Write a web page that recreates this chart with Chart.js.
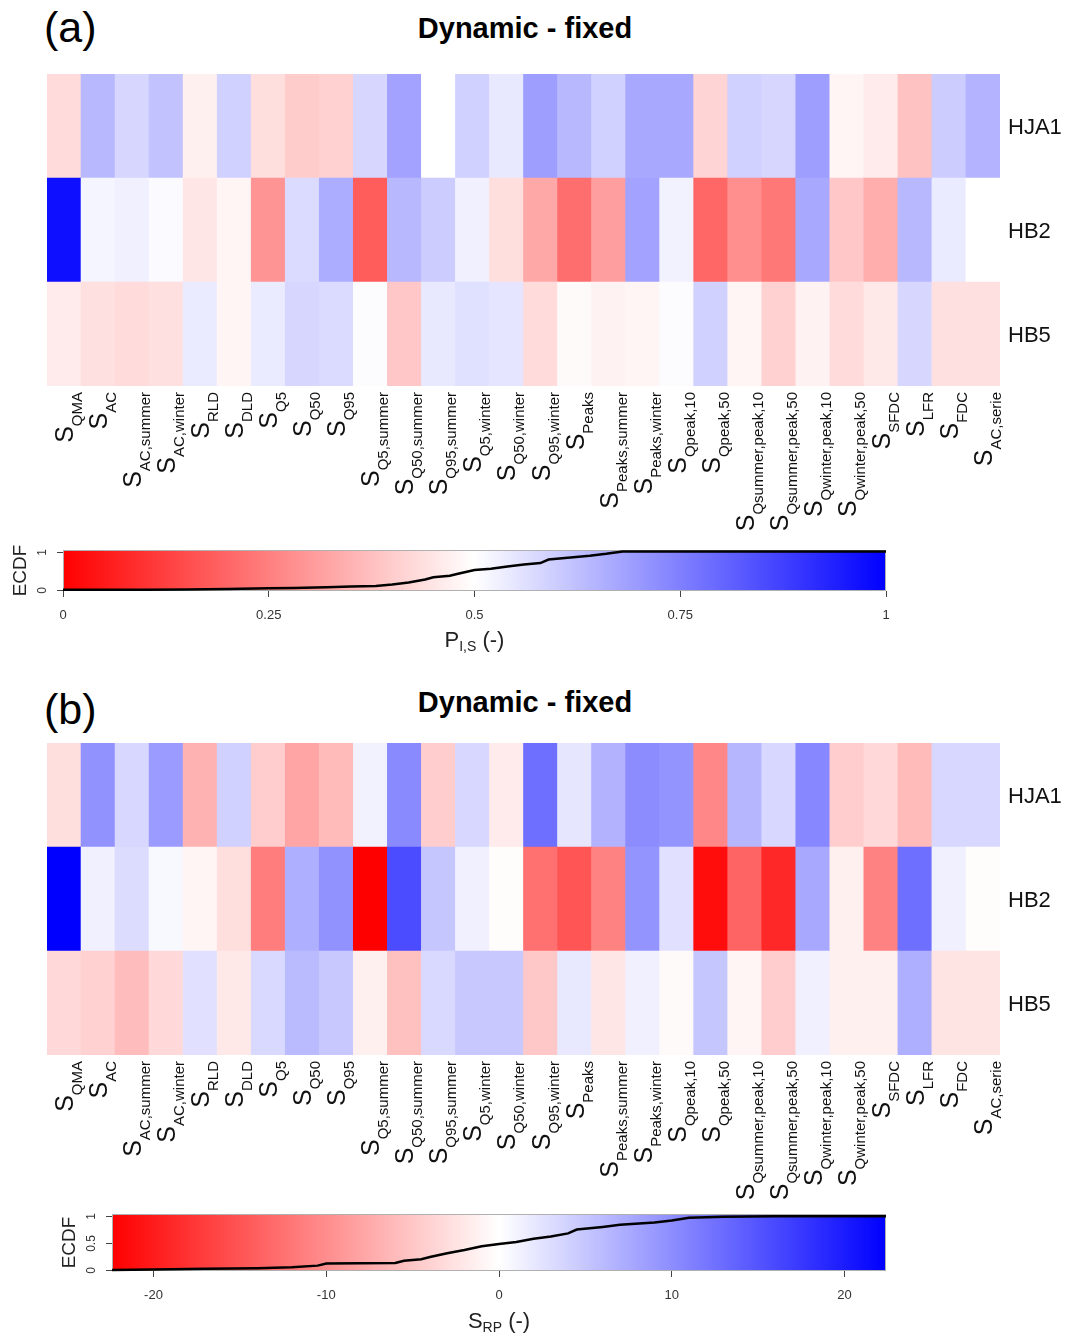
<!DOCTYPE html>
<html><head><meta charset="utf-8">
<script src="https://cdn.jsdelivr.net/npm/chart.js@4.4.0/dist/chart.umd.min.js"></script>
<style>
body{margin:0;background:#fff;width:1067px;height:1334px;position:relative;overflow:hidden;font-family:"Liberation Sans",Arial,sans-serif;}
canvas{position:absolute;left:0;}
.lab{position:absolute;color:#000;white-space:nowrap;}
</style></head><body>
<div class="lab" style="left:44px;top:3px;font-size:43px;">(a)</div>
<div class="lab" style="left:0;width:1050px;text-align:center;top:12px;font-size:29px;font-weight:bold;">Dynamic - fixed</div>
<div class="lab" style="left:44px;top:685px;font-size:43px;">(b)</div>
<div class="lab" style="left:0;width:1050px;text-align:center;top:686px;font-size:29px;font-weight:bold;">Dynamic - fixed</div>
<canvas id="hmA" width="1067" height="480" style="top:60px"></canvas>
<canvas id="cbA" width="1067" height="130" style="top:530px"></canvas>
<canvas id="hmB" width="1067" height="480" style="top:730px"></canvas>
<canvas id="cbB" width="1067" height="139" style="top:1195px"></canvas>
<script>
// ---------- DATA ----------
const categories = ['QMA','AC','AC,summer','AC,winter','RLD','DLD','Q5','Q50','Q95','Q5,summer','Q50,summer','Q95,summer','Q5,winter','Q50,winter','Q95,winter','Peaks','Peaks,summer','Peaks,winter','Qpeak,10','Qpeak,50','Qsummer,peak,10','Qsummer,peak,50','Qwinter,peak,10','Qwinter,peak,50','SFDC','LFR','FDC','AC,serie'];
const rows = ['HJA1','HB2','HB5'];
// panel (a): P_I,S
const pA_HJA1 = [0.43,0.64,0.58,0.62,0.47,0.59,0.435,0.40,0.41,0.58,0.68,0.50,0.59,0.545,0.69,0.64,0.59,0.67,0.67,0.415,0.59,0.58,0.69,0.48,0.46,0.38,0.60,0.65];
const pA_HB2  = [0.97,0.52,0.53,0.51,0.45,0.48,0.29,0.57,0.66,0.18,0.64,0.60,0.53,0.435,0.33,0.215,0.31,0.68,0.525,0.20,0.28,0.235,0.67,0.39,0.34,0.64,0.54,0.50];
const pA_HB5  = [0.46,0.44,0.43,0.44,0.54,0.48,0.54,0.58,0.57,0.505,0.39,0.545,0.56,0.55,0.43,0.49,0.475,0.48,0.505,0.59,0.48,0.41,0.475,0.43,0.455,0.58,0.44,0.44];
// panel (b): S_RP
const sB_HJA1 = [-2.9,9.6,3.5,8.8,-6.8,4.0,-4.4,-7.9,-6.1,1.1,10.3,-4.4,3.5,-1.8,12.7,2.2,6.8,10.1,9.4,-10.5,6.4,3.5,10.5,-4.4,-3.3,-6.1,3.5,3.5];
const sB_HB2  = [22.4,1.3,3.1,0.6,-0.9,-2.9,-11.4,7.0,9.6,-22.4,15.8,5.0,1.3,-0.3,-12.6,-14.9,-11.0,9.4,2.6,-21.3,-13.6,-18.9,7.6,-1.3,-11.0,12.7,1.3,-0.3];
const sB_HB5  = [-3.3,-4.0,-5.9,-3.3,2.6,-2.0,3.3,6.1,4.8,-1.3,-5.5,3.3,4.8,4.8,-4.8,2.0,-2.2,1.3,-0.4,5.0,-0.9,-4.4,1.3,-1.3,-1.3,7.0,-2.4,-2.4];
// colour-bar ranges and ticks
const rangeA = [0, 1];
const rangeB = [-22.4, 22.4];
const ticksA = [0, 0.25, 0.5, 0.75, 1];
const ticksB = [-20, -10, 0, 10, 20];
const ecdfTicksA = [0, 1];
const ecdfTicksB = [0, 0.5, 1];
// ECDF curves
const ecdfAx = [0,0.10,0.15,0.20,0.25,0.28,0.32,0.35,0.38,0.40,0.42,0.44,0.45,0.47,0.48,0.50,0.52,0.54,0.56,0.58,0.59,0.62,0.64,0.66,0.68,1.0];
const ecdfAy = [0,0.005,0.01,0.02,0.04,0.05,0.07,0.09,0.10,0.14,0.19,0.27,0.33,0.37,0.42,0.52,0.55,0.61,0.66,0.70,0.79,0.85,0.89,0.94,1.0,1.0];
const ecdfBx = [-22.4,-20,-17,-14,-12,-10.5,-10,-6,-5.5,-4.5,-4,-3,-2,-1,0,1,2,3,4,4.5,6,7,9,10,11,13,16,22.4];
const ecdfBy = [0,0.01,0.02,0.03,0.05,0.08,0.12,0.13,0.17,0.20,0.24,0.31,0.37,0.44,0.48,0.52,0.58,0.62,0.68,0.75,0.80,0.84,0.88,0.92,0.97,0.99,1.0,1.0];

// ---------- HELPERS ----------
const FONT = '"Liberation Sans", Arial, sans-serif';
Chart.defaults.font.family = FONT;
function divColor(p){
  p = Math.max(0, Math.min(1, p));
  let r, g, b;
  if (p < 0.5) { const t = p / 0.5; r = 255; g = b = Math.round(255 * t); }
  else { const t = (1 - p) / 0.5; r = g = Math.round(255 * t); b = 255; }
  return 'rgb(' + r + ',' + g + ',' + b + ')';
}
const toPA = v => (v - rangeA[0]) / (rangeA[1] - rangeA[0]);
const toPB = v => (v - rangeB[0]) / (rangeB[1] - rangeB[0]);

const heatLabels = {
  id: 'heatLabels',
  afterDraw(chart){
    const {ctx, chartArea} = chart;
    const x = chart.scales.x, y = chart.scales.y;
    ctx.save();
    ctx.fillStyle = '#111';
    ctx.font = '22px ' + FONT;
    ctx.textAlign = 'left'; ctx.textBaseline = 'middle';
    rows.forEach((r, k) => {
      const yc = y.getPixelForValue(rows.length - k - 0.5);
      ctx.fillText(r, chartArea.right + 8, yc + 2);
    });
    categories.forEach((c, i) => {
      const xc = x.getPixelForValue(i);
      ctx.save();
      ctx.translate(xc, chartArea.bottom + 6);
      ctx.rotate(-Math.PI / 2);
      ctx.font = '25px ' + FONT; const wS = ctx.measureText('S').width;
      ctx.font = '15px ' + FONT; const wSub = ctx.measureText(c).width;
      const w = wS + wSub;
      ctx.textAlign = 'left'; ctx.textBaseline = 'alphabetic';
      ctx.font = '25px ' + FONT; ctx.fillText('S', -w, 9);
      ctx.font = '15px ' + FONT; ctx.fillText(c, -w + wS, 18);
      ctx.restore();
    });
    ctx.restore();
  }
};

function heatmap(id, rowData, toP, pad){
  const order = [2, 1, 0]; // bottom-up stacking
  new Chart(document.getElementById(id), {
    type: 'bar',
    data: {
      labels: categories.map(c => 'S' + c),
      datasets: order.map(k => ({
        label: rows[k],
        data: categories.map(() => 1),
        backgroundColor: rowData[k].map(v => divColor(toP(v))),
        borderWidth: 0,
        barPercentage: 1,
        categoryPercentage: 1,
        stack: 's'
      }))
    },
    options: {
      responsive: false, animation: false, events: [],
      layout: {padding: pad},
      plugins: {legend: {display: false}, tooltip: {enabled: false}},
      scales: {
        x: {display: false, stacked: true},
        y: {display: false, stacked: true, min: 0, max: 3}
      }
    },
    plugins: [heatLabels]
  });
}

function colorbar(id, o){
  const plug = {
    id: 'cbar',
    beforeDatasetsDraw(chart){
      const {ctx, chartArea: a} = chart;
      const g = ctx.createLinearGradient(a.left, 0, a.right, 0);
      g.addColorStop(0, 'rgb(255,0,0)');
      g.addColorStop(0.5, 'rgb(255,255,255)');
      g.addColorStop(1, 'rgb(0,0,255)');
      ctx.save();
      ctx.fillStyle = g;
      ctx.fillRect(a.left, a.top, a.right - a.left, a.bottom - a.top);
      ctx.strokeStyle = '#b0b0b0'; ctx.lineWidth = 1;
      ctx.strokeRect(a.left + 0.5, a.top + 0.5, a.right - a.left - 1, a.bottom - a.top - 1);
      ctx.restore();
    },
    afterDraw(chart){
      const {ctx, chartArea: a} = chart;
      const y = chart.scales.y;
      ctx.save();
      ctx.strokeStyle = '#444'; ctx.fillStyle = '#333'; ctx.lineWidth = 1;
      o.yTicks.forEach(t => {
        const yp = Math.round(y.getPixelForValue(t)) + 0.5;
        ctx.beginPath(); ctx.moveTo(a.left - 6, yp); ctx.lineTo(a.left, yp); ctx.stroke();
        ctx.save(); ctx.translate(a.left - 20, yp); ctx.rotate(-Math.PI / 2);
        ctx.font = '12px ' + FONT; ctx.textAlign = 'center'; ctx.textBaseline = 'middle';
        ctx.fillText(String(t), 0, 0); ctx.restore();
      });
      ctx.save(); ctx.translate(a.left - 42, (a.top + a.bottom) / 2); ctx.rotate(-Math.PI / 2);
      ctx.fillStyle = '#222';
      ctx.font = '19px ' + FONT; ctx.textAlign = 'center'; ctx.textBaseline = 'middle';
      ctx.fillText('ECDF', 0, 0); ctx.restore();
      // x title with subscript
      ctx.fillStyle = '#222';
      ctx.font = '22px ' + FONT; const w1 = ctx.measureText(o.tMain).width; const w3 = ctx.measureText(' (-)').width;
      ctx.font = '14px ' + FONT; const w2 = ctx.measureText(o.tSub).width;
      const cx = (a.left + a.right) / 2 + o.tShift;
      let xs = cx - (w1 + w2 + w3) / 2;
      ctx.textAlign = 'left'; ctx.textBaseline = 'alphabetic';
      ctx.font = '22px ' + FONT; ctx.fillText(o.tMain, xs, o.tBase);
      ctx.font = '14px ' + FONT; ctx.fillText(o.tSub, xs + w1, o.tBase + 4);
      ctx.font = '22px ' + FONT; ctx.fillText(' (-)', xs + w1 + w2, o.tBase);
      ctx.restore();
    }
  };
  new Chart(document.getElementById(id), {
    type: 'line',
    data: {datasets: [{
      data: o.ex.map((x, i) => ({x: x, y: o.ey[i]})),
      borderColor: '#000', borderWidth: 2.5, pointRadius: 0, tension: 0, clip: false
    }]},
    options: {
      responsive: false, animation: false, events: [],
      layout: {padding: o.pad},
      plugins: {legend: {display: false}, tooltip: {enabled: false}},
      scales: {
        x: {
          type: 'linear', min: o.range[0], max: o.range[1],
          afterBuildTicks: s => { s.ticks = o.ticks.map(v => ({value: v})); },
          afterFit: s => { s.height = 32; },
          grid: {drawOnChartArea: false, drawTicks: true, tickLength: 6, color: '#444', lineWidth: 1},
          border: {display: false},
          ticks: {font: {size: 13}, color: '#333', padding: 11, maxRotation: 0, autoSkip: false, callback: v => String(v)}
        },
        y: {display: false, min: o.yMin, max: 1.04}
      }
    },
    plugins: [plug]
  });
}

heatmap('hmA', [pA_HJA1, pA_HB2, pA_HB5], toPA, {left: 47, right: 67, top: 14, bottom: 154});
heatmap('hmB', [sB_HJA1, sB_HB2, sB_HB5], toPB, {left: 47, right: 67, top: 13, bottom: 155});
colorbar('cbA', {ex: ecdfAx, ey: ecdfAy, range: rangeA, ticks: ticksA, yTicks: ecdfTicksA, yMin: -0.03,
  pad: {left: 63, right: 181, top: 20, bottom: 37}, tMain: 'P', tSub: 'I,S', tBase: 117, tShift: 0});
colorbar('cbB', {ex: ecdfBx, ey: ecdfBy, range: rangeB, ticks: ticksB, yTicks: ecdfTicksB, yMin: -0.02,
  pad: {left: 112, right: 181, top: 19, bottom: 31}, tMain: 'S', tSub: 'RP', tBase: 133, tShift: 0});
</script>
</body></html>
